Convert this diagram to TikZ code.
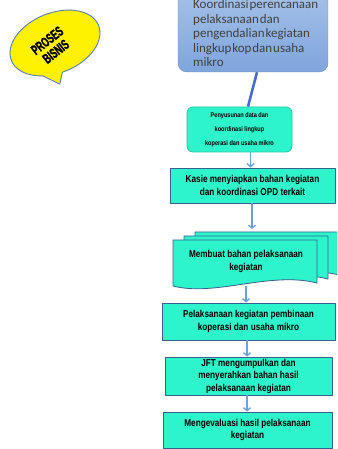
\documentclass[tikz,border=0pt]{standalone}
\usepackage{fontspec}
\setmainfont{Liberation Sans}
\newfontfamily\narrowfont[FakeStretch=0.82]{Liberation Sans}
\newfontfamily\bubblefont[FakeStretch=0.62, FakeBold=1.5]{Liberation Sans}
\newfontfamily\calfont[WordSpace=0.3]{Carlito}
\usetikzlibrary{arrows.meta}
\definecolor{aquabox}{RGB}{46,244,204}
\definecolor{edgeblue}{RGB}{58,95,143}
\definecolor{arrowblue}{RGB}{111,160,220}
\definecolor{linkblue}{RGB}{68,110,200}
\definecolor{topblue}{RGB}{126,165,221}
\definecolor{bubbleedge}{RGB}{91,125,184}
\tikzset{
  box/.style n args={2}{draw=edgeblue, fill=aquabox, line width=0.8pt, minimum width=#1, minimum height=#2,
    inner sep=1pt, align=center, font=\narrowfont\bfseries\fontsize{10}{12.5}\selectfont},
  flow/.style={->, draw=arrowblue, line width=1.4pt},
}
\newcommand{\docpage}[2]{%
  \draw[draw=edgeblue, fill=aquabox, line width=0.8pt, shift={(#1,#2)}]
    (173,209) -- (317,209) -- (317,166) .. controls (270,178) and (215,152) .. (173,163) -- cycle;}
\begin{document}
\begin{tikzpicture}[x=1pt, y=1pt, line join=round, >={Straight Barb[length=3pt,width=7pt]}]
  \useasboundingbox (0,0) rectangle (337,449);
  \clip (0,0) rectangle (337,449);
  % bubble
  \begin{scope}[shift={(55,406)}, rotate=22]
    \draw[fill=yellow, draw=bubbleedge, line width=0.9pt]
      (240:47 and 30) -- (-11,-40) -- (265:47 and 30)
      arc[start angle=265, end angle=600, x radius=47, y radius=30] -- cycle;
  \end{scope}
  \node[rotate=38, align=center, font=\bubblefont\bfseries\fontsize{14}{14}\selectfont] (proses) at (51.5,403) {PROSES\\BISNIS};
  % top box
  \node[draw=topblue!85!black, top color=topblue!70!white, bottom color=topblue, rounded corners=9pt,
    minimum width=150, minimum height=80] (koor) at (253,417) {};
  \node[anchor=north west, inner sep=0pt, align=left, text=black!75,
    font=\calfont\fontsize{13}{14.5}\selectfont] (koortext) at (193,449.5)
    {Koordinasi perencanaan\\pelaksanaan dan\\pengendalian kegiatan\\lingkup kop dan usaha\\mikro};
  % steps
  \node[box={105}{45}, draw=aquabox!80!black, rounded corners=6pt, font=\narrowfont\bfseries\fontsize{6.8}{14}\selectfont] (penyusunan) at (239.5,319.5)
    {Penyusunan data dan\\koordinasi lingkup\\koperasi dan usaha mikro};
  \node[box={165}{35}] (kasie) at (252.5,263.5) {Kasie menyiapkan bahan kegiatan\\dan koordinasi OPD terkait};
  \docpage{22}{8}
  \docpage{11}{4}
  \docpage{0}{0}
  \coordinate (docback) at (252,220);
  \node[align=center, font=\narrowfont\bfseries\fontsize{10}{13}\selectfont] (membuat) at (246,188) {Membuat bahan pelaksanaan\\kegiatan};
  \coordinate (docfoot) at (246,163);
  \node[box={173}{37}] (pelaksanaan) at (248.5,127.5) {Pelaksanaan kegiatan pembinaan\\koperasi dan usaha mikro};
  \node[box={167}{38}, font=\narrowfont\bfseries\fontsize{10}{12.5}\selectfont] (jft) at (248.5,73) {JFT mengumpulkan dan\\menyerahkan bahan hasil\\pelaksanaan kegiatan};
  \node[box={169}{36}] (evaluasi) at (247.5,19) {Mengevaluasi hasil pelaksanaan\\kegiatan};
  % connectors
  \draw[linkblue, line width=2.6pt] ([xshift=4pt]koor.south) -- ([xshift=8.5pt]penyusunan.north);
  \draw[flow] ([xshift=11pt]penyusunan.south) -- ([xshift=11pt]penyusunan.south |- kasie.north);
  \draw[flow] (kasie.south -| docback) -- (docback);
  \draw[flow] (docfoot) -- (docfoot |- pelaksanaan.north);
  \draw[flow] (pelaksanaan.south -| 247,0) -- (jft.north -| 247,0);
  \draw[flow] (jft.south -| 247,0) -- (evaluasi.north -| 247,0);
\end{tikzpicture}
\end{document}
